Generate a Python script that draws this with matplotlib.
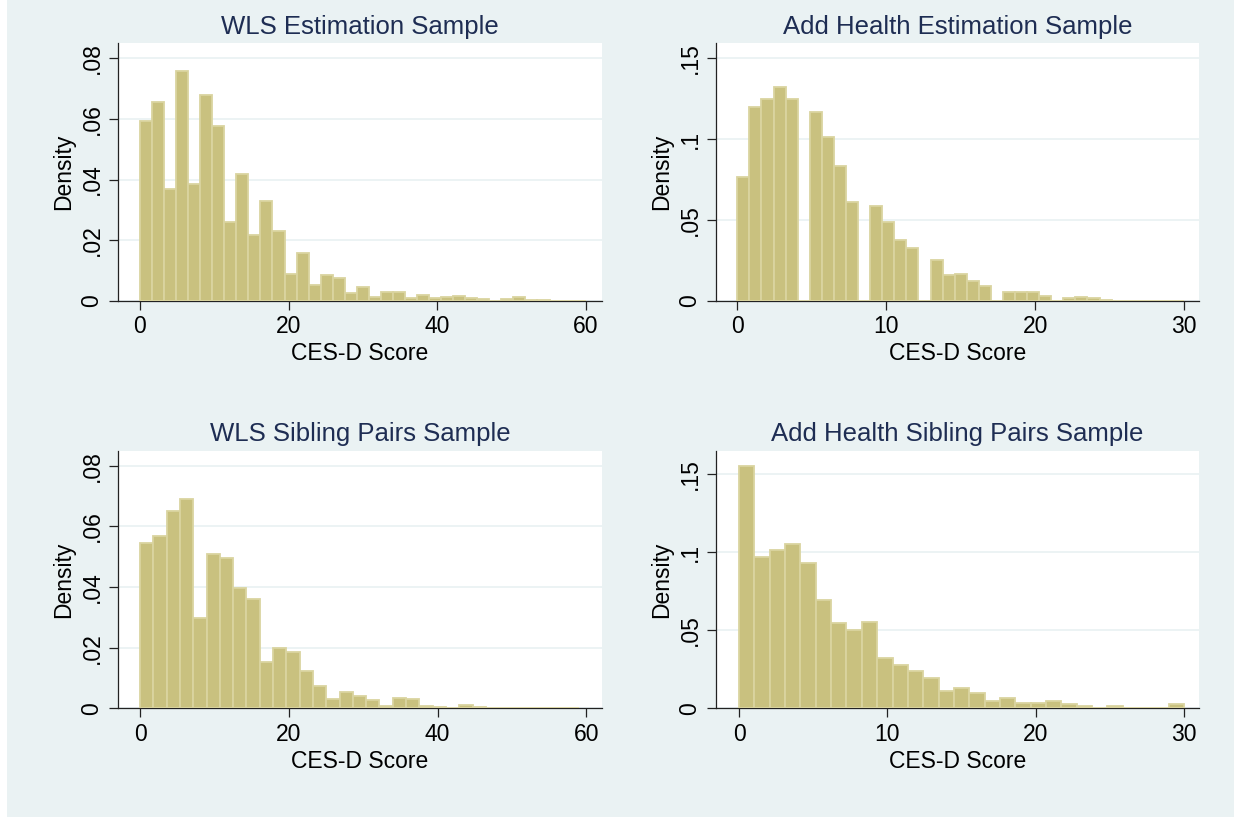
import matplotlib
matplotlib.use("Agg")
import matplotlib.pyplot as plt
import numpy as np
from matplotlib.patches import Rectangle

# DATA - densities per bin
titles = ["WLS Estimation Sample", "Add Health Estimation Sample",
          "WLS Sibling Pairs Sample", "Add Health Sibling Pairs Sample"]

# (lower, upper, number of bins) of each histogram
bin_ranges = [(0, 60, 37), (0, 30, 37), (0, 59, 33), (0, 30, 29)]

wls_est = [0.0593, 0.0655, 0.0368, 0.0760, 0.0384, 0.0678, 0.0576, 0.0259, 0.0420, 0.0217,
           0.0328, 0.0229, 0.0087, 0.0156, 0.0051, 0.0084, 0.0074, 0.0024, 0.0044, 0.0011,
           0.0028, 0.0028, 0.0010, 0.0019, 0.0009, 0.0011, 0.0015, 0.0009, 0.0006, 0.0,
           0.0006, 0.0012, 0.0003, 0.0003, 0.0, 0.0, 0.0]
ah_est = [0.0768, 0.1198, 0.1248, 0.1323, 0.1248, 0.0, 0.1167, 0.1011, 0.0831, 0.0613,
          0.0, 0.0588, 0.0488, 0.0376, 0.0326, 0.0, 0.0252, 0.0158, 0.0166, 0.0123,
          0.0092, 0.0, 0.0054, 0.0054, 0.0054, 0.0029, 0.0, 0.0017, 0.0023, 0.0017,
          0.0005, 0.0, 0.0, 0.0, 0.0, 0.0, 0.0]
wls_sib = [0.0545, 0.0568, 0.0650, 0.0690, 0.0297, 0.0510, 0.0495, 0.0397, 0.0362, 0.0153,
           0.0198, 0.0186, 0.0123, 0.0073, 0.0031, 0.0054, 0.0042, 0.0027, 0.0008, 0.0033,
           0.0031, 0.0008, 0.0003, 0.0002, 0.0011, 0.0004, 0.0, 0.0, 0.0, 0.0002,
           0.0, 0.0, 0.0]
ah_sib = [0.1550, 0.0968, 0.1015, 0.1051, 0.0927, 0.0693, 0.0546, 0.0501, 0.0554, 0.0322,
          0.0277, 0.0241, 0.0194, 0.0113, 0.0132, 0.0100, 0.0049, 0.0068, 0.0035, 0.0035,
          0.0049, 0.0030, 0.0017, 0.0004, 0.0017, 0.0004, 0.0004, 0.0, 0.0030]
densities = [wls_est, ah_est, wls_sib, ah_sib]

xticks_list = [[0, 20, 40, 60], [0, 10, 20, 30], [0, 20, 40, 60], [0, 10, 20, 30]]
yticks_wls = [0, 0.02, 0.04, 0.06, 0.08]
ylabels_wls = ["0", ".02", ".04", ".06", ".08"]
yticks_ah = [0, 0.05, 0.1, 0.15]
ylabels_ah = ["0", ".05", ".1", ".15"]

#STYLE
BG = "#EAF2F3"
TITLE = "#1E2D53"
FILL = "#C9C17F"
EDGE = "#DAD4A0"
plt.rcParams['font.family'] = ['Liberation Sans', 'DejaVu Sans']

W, H = 1234, 817
fig = plt.figure(figsize=(W / 100, H / 100), dpi=100, facecolor=BG)
fig.patches.append(Rectangle((0, 0), 7 / W, 1, transform=fig.transFigure,
                             facecolor="white", edgecolor="none", zorder=-5))

# axes boxes in pixels: left, top, right, bottom
boxes = [(118, 43.3, 602, 300.7), (716, 43.3, 1199, 300.7),
         (118, 450.7, 602, 708.3), (716, 450.7, 1199, 708.3)]
xlims = [(-2.96, 62.2), (-1.43, 31.0), (-2.96, 62.1), (-1.55, 31.0)]
ylims = [0.0850, 0.1593, 0.0850, 0.1649]

for i in range(4):
    l, t, r, b = boxes[i]
    ax = fig.add_axes([l / W, (H - b) / H, (r - l) / W, (b - t) / H])
    ax.set_facecolor("white")
    lo, hi, n = bin_ranges[i]
    edges = np.linspace(lo, hi, n + 1)
    ax.bar(edges[:-1], densities[i], width=edges[1] - edges[0], align="edge",
           color=FILL, edgecolor=EDGE, linewidth=1.3, zorder=3)
    ax.set_xlim(*xlims[i])
    ax.set_ylim(0, ylims[i])
    ax.set_xticks(xticks_list[i])
    if i % 2 == 0:
        ax.set_yticks(yticks_wls)
        ax.set_yticklabels(ylabels_wls)
    else:
        ax.set_yticks(yticks_ah)
        ax.set_yticklabels(ylabels_ah)
    for lab in ax.get_yticklabels():
        lab.set_rotation(90)
        lab.set_va("center")
    ax.grid(axis="y", color=BG, linewidth=1.3, zorder=0)
    ax.set_axisbelow(True)
    for s in ["top", "right"]:
        ax.spines[s].set_visible(False)
    for s in ["left", "bottom"]:
        ax.spines[s].set_linewidth(0.9)
        ax.spines[s].set_color("#222222")
    ax.tick_params(length=6.5, width=0.9, color="#222222", labelsize=16.5, pad=4)
    ax.set_xlabel("CES-D Score", fontsize=16.5, labelpad=3)
    ax.set_ylabel("Density", fontsize=16.5, labelpad=4)
    ax.set_title(titles[i], fontsize=18.5, color=TITLE, pad=7)

fig.savefig("out.png", dpi=100, facecolor=BG)
